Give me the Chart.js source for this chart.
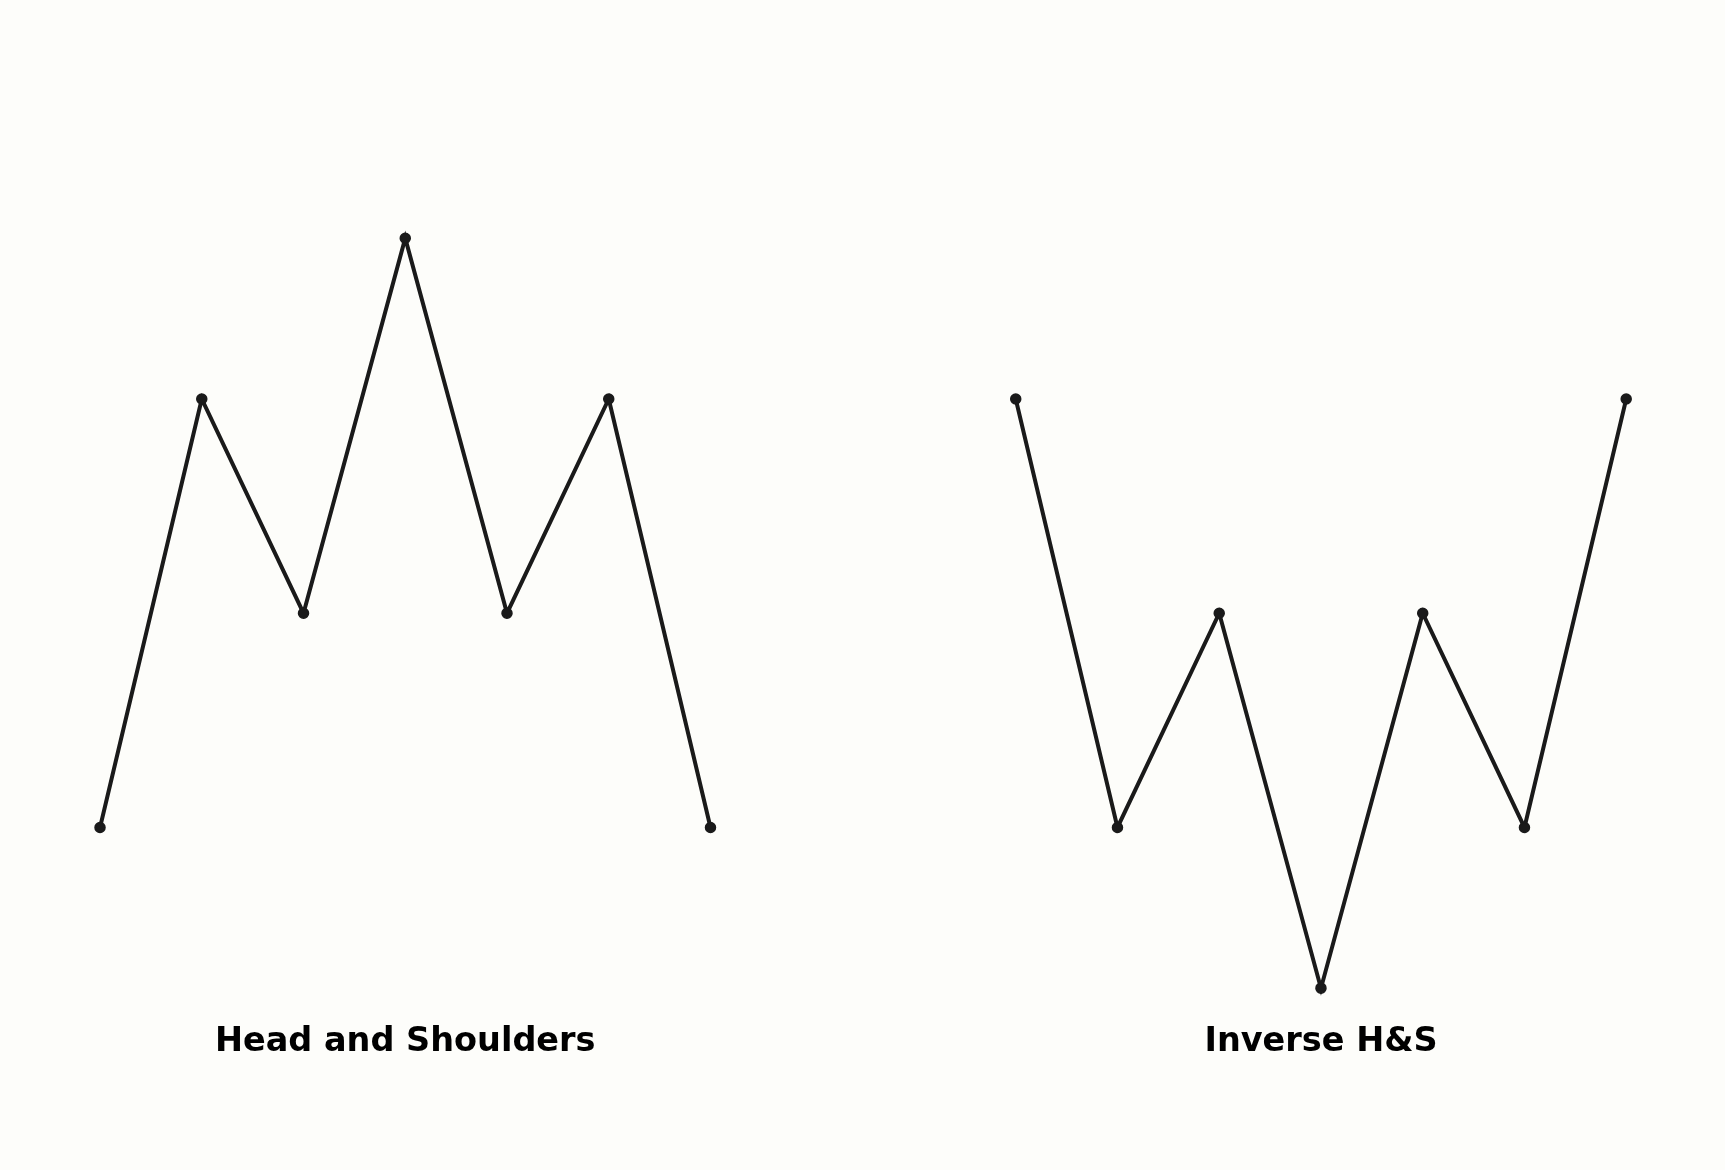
<!DOCTYPE html>
<html>
<head>
<meta charset="utf-8">
<script src="https://cdn.jsdelivr.net/npm/chart.js@4.4.1/dist/chart.umd.min.js"></script>
<style>
  html, body { margin: 0; padding: 0; background: #fdfdfa; overflow: hidden; }
  #wrap { width: 1725px; height: 1170px; }
</style>
</head>
<body>
<div id="wrap"><canvas id="c"></canvas></div>
<script>
// Data
const hsX = [0, 1, 2, 3, 4, 5, 6];
const hsY = [1, 3, 2, 3.75, 2, 3, 1];
const invX = [9, 10, 11, 12, 13, 14, 15];
const invY = [3, 1, 2, 0.25, 2, 1, 3];
const titles = ["Head and Shoulders", "Inverse H&S"];
const titleX = [3, 12];

const toPts = (xs, ys) => xs.map((x, i) => ({ x: x, y: ys[i] }));

const labelPlugin = {
  id: 'patternLabels',
  afterDraw(chart) {
    const ctx = chart.ctx;
    const xs = chart.scales.x;
    ctx.save();
    ctx.font = 'bold 33.5px "DejaVu Sans"';
    ctx.fillStyle = '#000000';
    ctx.textAlign = 'center';
    ctx.textBaseline = 'alphabetic';
    titles.forEach((t, i) => {
      ctx.fillText(t, xs.getPixelForValue(titleX[i]), 1051);
    });
    ctx.restore();
  }
};

const lineStyle = {
  borderColor: '#1a1a1a',
  backgroundColor: '#1a1a1a',
  borderWidth: 4,
  pointRadius: 5,
  pointBorderWidth: 1.5,
  pointHoverRadius: 5,
  tension: 0,
  fill: false
};

new Chart(document.getElementById('c'), {
  type: 'line',
  data: {
    datasets: [
      Object.assign({ label: titles[0], data: toPts(hsX, hsY) }, lineStyle),
      Object.assign({ label: titles[1], data: toPts(invX, invY) }, lineStyle)
    ]
  },
  options: {
    responsive: true,
    maintainAspectRatio: false,
    animation: false,
    layout: { padding: 0, autoPadding: false },
    plugins: { legend: { display: false }, tooltip: { enabled: false }, title: { display: false } },
    scales: {
      x: { type: 'linear', display: false, min: -0.983, max: 15.971 },
      y: { type: 'linear', display: false, min: -0.5986, max: 4.862 }
    }
  },
  plugins: [labelPlugin]
});
</script>
</body>
</html>
